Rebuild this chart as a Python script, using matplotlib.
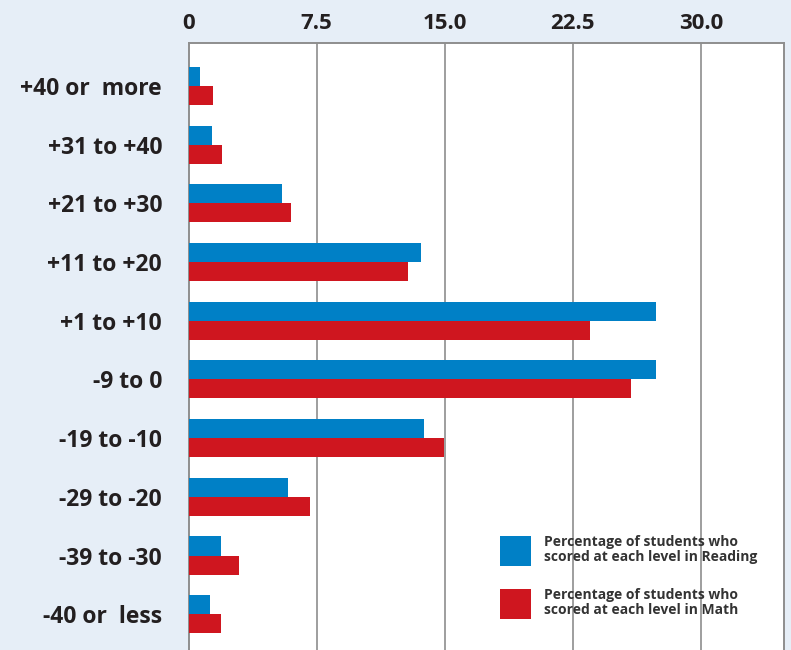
import matplotlib
matplotlib.use("Agg")
import matplotlib.pyplot as plt
import numpy as np

categories = ["+40 or  more", "+31 to +40", "+21 to +30", "+11 to +20", "+1 to +10",
              "-9 to 0", "-19 to -10", "-29 to -20", "-39 to -30", "-40 or  less"]
reading = [0.67, 1.38, 5.47, 13.6, 27.4, 27.35, 13.77, 5.83, 1.9, 1.26]
math = [1.42, 1.96, 6.0, 12.85, 23.5, 25.9, 14.96, 7.1, 2.96, 1.9]
tick_values = [0, 7.5, 15, 22.5, 30]
tick_labels = ["0", "7.5", "15.0", "22.5", "30.0"]
legend_labels = ["Percentage of students who\nscored at each level in Reading",
                 "Percentage of students who\nscored at each level in Math"]

BLUE = "#0080c6"
RED = "#cf161f"
BG = "#e6eef7"
GRID = "#8e8e8e"
TXT = "#231f20"

plt.rcParams['font.family'] = ['Open Sans', 'DejaVu Sans']

fig = plt.figure(figsize=(7.91, 6.5), dpi=100, facecolor=BG)
ax = fig.add_axes([188.5/791, 0, (784-188.5)/791, 1-43/650])
ax.set_facecolor("white")

y = np.arange(len(categories))
h = 0.324
ax.barh(y - h/2, reading, height=h, color=BLUE, label=legend_labels[0], zorder=3)
ax.barh(y + h/2, math, height=h, color=RED, label=legend_labels[1], zorder=3)

ax.set_xlim(0, (784-188.5)/17.08)
ax.set_ylim(9.61, -0.733)

ax.xaxis.tick_top()
ax.set_xticks(tick_values)
ax.set_xticklabels(tick_labels, fontsize=16, fontweight='bold', color=TXT)
ax.tick_params(axis='x', length=0, pad=6.5)
ax.set_yticks(y)
ax.set_yticklabels(categories, fontsize=16.5, fontweight='bold', color=TXT)
ax.tick_params(axis='y', length=0, pad=19)

for v in tick_values[1:]:
    ax.axvline(v, color=GRID, lw=1.2, zorder=1)

for s in ['left', 'top', 'right']:
    ax.spines[s].set_color(GRID)
    ax.spines[s].set_linewidth(1.4)
ax.spines['bottom'].set_visible(False)

leg = ax.legend(loc='upper left', bbox_to_anchor=(500/791, 1-535/650),
                bbox_transform=fig.transFigure, frameon=False,
                prop={'size': 10, 'weight': 'bold'},
                handlelength=2.2, handleheight=3.0, handletextpad=1.0,
                labelspacing=1.55, borderpad=0, borderaxespad=0)
for t in leg.get_texts():
    t.set_color("#333333")
    t.set_linespacing(1.1)

fig.savefig("out.png", dpi=100, facecolor=BG)
